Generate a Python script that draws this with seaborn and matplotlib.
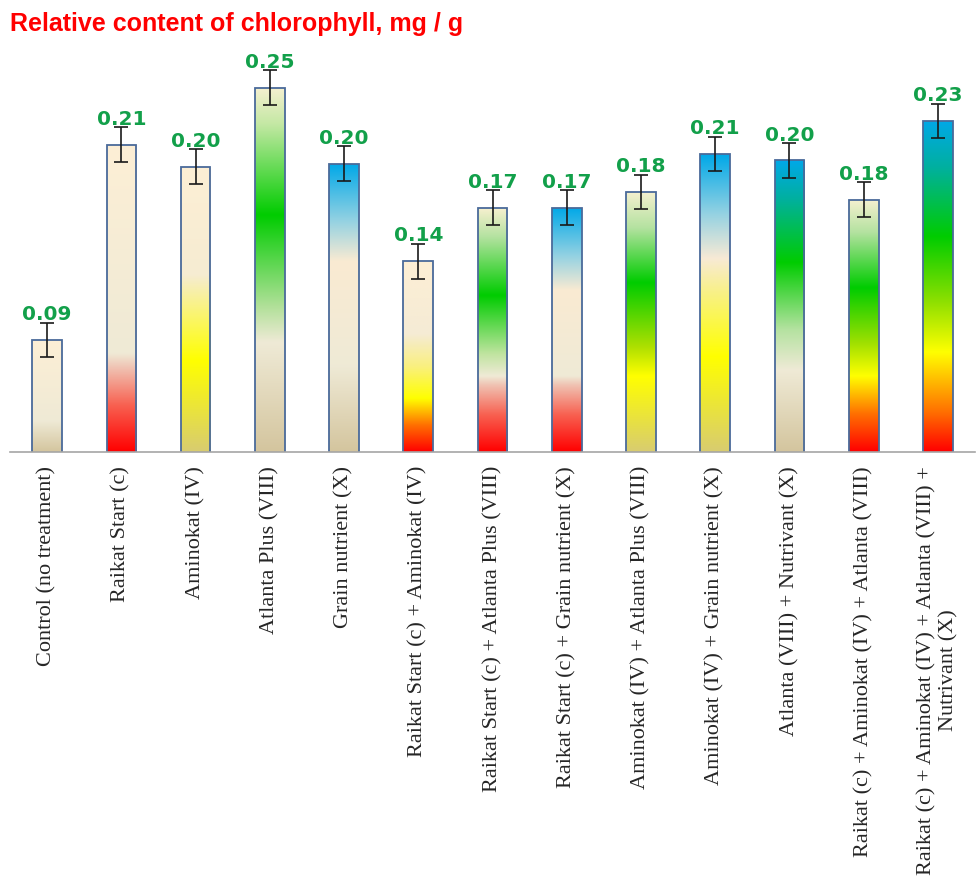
import numpy as np
import matplotlib
matplotlib.use("Agg")
import matplotlib.pyplot as plt
from matplotlib.colors import LinearSegmentedColormap
import seaborn as sns

sns.set_style("white")
plt.rcParams['font.family'] = ['DejaVu Sans']

# data
treatments = [
    "Control (no treatment)",
    "Raikat Start (c)",
    "Aminokat (IV)",
    "Atlanta Plus (VIII)",
    "Grain nutrient (X)",
    "Raikat Start (c) + Aminokat (IV)",
    "Raikat Start (c) + Atlanta Plus (VIII)",
    "Raikat Start (c) + Grain nutrient (X)",
    "Aminokat (IV) + Atlanta Plus (VIII)",
    "Aminokat (IV) + Grain nutrient (X)",
    "Atlanta (VIII) + Nutrivant (X)",
    "Raikat (c) + Aminokat (IV) + Atlanta (VIII)",
    "Raikat (c) + Aminokat (IV) + Atlanta (VIII) +\nNutrivant (X)",
]
chlorophyll = [0.090, 0.214, 0.200, 0.250, 0.202, 0.140, 0.174,
               0.174, 0.184, 0.208, 0.204, 0.179, 0.229]
errors = [0.011, 0.011, 0.011, 0.011, 0.011, 0.011, 0.011,
          0.011, 0.011, 0.011, 0.011, 0.011, 0.011]
value_labels = ["0.09", "0.21", "0.20", "0.25", "0.20", "0.14", "0.17",
                "0.17", "0.18", "0.21", "0.20", "0.18", "0.23"]

# gradient fills, bottom -> top (style only)
TAN, BEIGE, CREAM = '#d4c59e', '#efead6', '#fdefd5'
RED, ORANGE, YELLOW, OLIVE = '#ff0000', '#ff7000', '#ffff00', '#d8cc70'
GREEN, LGREEN, TEAL, BLUE = '#00cc00', '#b4e2a0', '#00b0a0', '#00a8e8'
PINK, SALMON, LBLUE = '#f0c0b0', '#f86050', '#95d2e2'
BAR_GRADIENTS = [
    [(0, TAN), (0.28, BEIGE), (1, CREAM)],
    [(0, RED), (0.15, SALMON), (0.27, PINK), (0.32, BEIGE), (1, CREAM)],
    [(0, OLIVE), (0.32, YELLOW), (0.62, '#f6ecd2'), (1, CREAM)],
    [(0, TAN), (0.3, BEIGE), (0.4, '#b0e098'), (0.65, GREEN), (0.9, '#c4e8a4'), (1, '#f5f0d0')],
    [(0, TAN), (0.3, BEIGE), (0.66, '#faebd2'), (0.8, LBLUE), (1, BLUE)],
    [(0, RED), (0.14, ORANGE), (0.28, YELLOW), (0.45, '#faf080'), (0.62, '#f5ebd5'), (1, CREAM)],
    [(0, RED), (0.15, SALMON), (0.27, PINK), (0.31, BEIGE), (0.4, '#c0e4a0'), (0.64, GREEN), (0.88, LGREEN), (1, '#f8f0d0')],
    [(0, RED), (0.15, SALMON), (0.27, PINK), (0.31, BEIGE), (0.66, '#faebd2'), (0.8, LBLUE), (1, BLUE)],
    [(0, OLIVE), (0.29, YELLOW), (0.4, '#b0e000'), (0.65, GREEN), (0.86, LGREEN), (1, '#f5f0d0')],
    [(0, OLIVE), (0.32, YELLOW), (0.55, '#f8f090'), (0.65, '#f8ead5'), (0.8, LBLUE), (1, BLUE)],
    [(0, TAN), (0.28, BEIGE), (0.42, LGREEN), (0.65, GREEN), (0.87, TEAL), (1, BLUE)],
    [(0, RED), (0.15, ORANGE), (0.3, YELLOW), (0.43, '#a0e000'), (0.65, GREEN), (0.87, LGREEN), (1, '#f5f0d0')],
    [(0, RED), (0.12, ORANGE), (0.3, YELLOW), (0.45, '#90e000'), (0.65, GREEN), (0.86, TEAL), (1, BLUE)],
]

Y0, Y1 = 0.019, 0.274

fig = plt.figure(figsize=(9.79, 8.8), dpi=100)
ax = fig.add_axes([10 / 979, 1 - 452 / 880, 965 / 979, 402 / 880])

sns.barplot(x=treatments, y=chlorophyll, color='white', width=0.4,
            errorbar=None, ax=ax)

grad = np.linspace(0, 1, 256).reshape(-1, 1)
for i, patch in enumerate(ax.patches):
    x0 = patch.get_x()
    w = patch.get_width()
    top = patch.get_height()
    cmap = LinearSegmentedColormap.from_list(f"g{i}", BAR_GRADIENTS[i])
    im = ax.imshow(grad, origin='lower', extent=[x0, x0 + w, Y0, top],
                   cmap=cmap, aspect='auto', interpolation='bicubic', zorder=1)
    im.set_clip_path(patch)
    patch.set_facecolor('none')
    patch.set_edgecolor('#4a6a9a')
    patch.set_linewidth(1.3)
    patch.set_zorder(2)

xs = np.arange(len(treatments))
ax.errorbar(xs, chlorophyll, yerr=errors, fmt='none', ecolor='#1a1a1a',
            elinewidth=1.2, capsize=5, capthick=1.2, zorder=3)

for x, v, e, lab in zip(xs, chlorophyll, errors, value_labels):
    ax.text(x, v + e - 0.001, lab, ha='center', va='bottom', fontsize=14.5,
            fontweight='bold', color='#12a04a', zorder=4)

ax.set_xlim(-0.5, len(treatments) - 0.5)
ax.set_ylim(Y0, Y1)
ax.set_yticks([])
ax.set_ylabel('')
for s in ['top', 'left', 'right']:
    ax.spines[s].set_visible(False)
ax.spines['bottom'].set_color('#a6a6a6')
ax.spines['bottom'].set_linewidth(1.2)

ax.set_xticks(xs)
ax.set_xticks(xs[:-1] + 0.5, minor=True)
ax.tick_params(axis='x', which='major', length=0, pad=10)
ax.tick_params(axis='x', which='minor', length=5, width=1.2, color='#a6a6a6',
               direction='out')
ax.set_xticklabels(treatments, rotation=90, fontsize=16,
                   family='Liberation Serif', multialignment='center')

fig.text(10 / 979, 1 - 12 / 880, "Relative content of chlorophyll, mg / g",
         ha='left', va='top', fontsize=18, fontweight='bold', color='#ff0000',
         family='Liberation Sans')

fig.savefig('out.png', dpi=100)
